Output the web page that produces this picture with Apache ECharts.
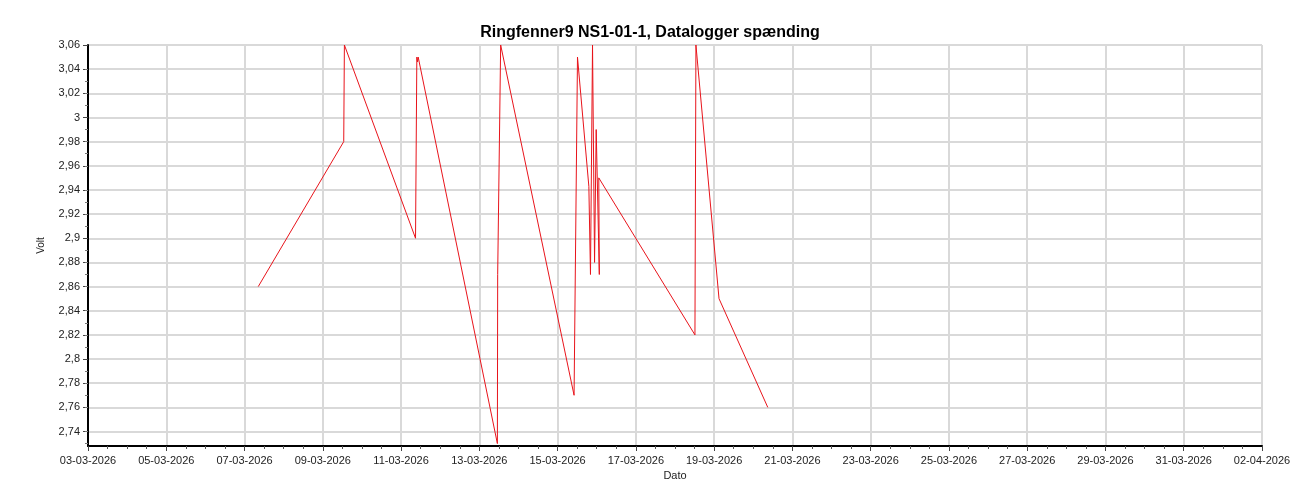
<!DOCTYPE html>
<html>
<head>
<meta charset="utf-8">
<title>Ringfenner9 NS1-01-1</title>
<script src="https://cdn.jsdelivr.net/npm/echarts@6/dist/echarts.min.js"></script>
<style>
  html, body { margin: 0; padding: 0; background: #fff; }
  #chart { width: 1300px; height: 500px; }
</style>
</head>
<body>
<div id="chart"></div>
<script>
// maaletidspunkter (UTC) og spaending
const times = [
  '2026-03-07 08:25', '2026-03-09 12:50', '2026-03-09 13:15',
  '2026-03-11 08:52', '2026-03-11 09:40', '2026-03-11 10:05', '2026-03-11 10:30',
  '2026-03-13 11:04', '2026-03-13 11:15', '2026-03-13 13:05',
  '2026-03-15 10:06', '2026-03-15 12:12', '2026-03-15 19:10', '2026-03-15 20:10',
  '2026-03-15 21:25', '2026-03-15 22:40', '2026-03-15 23:40', '2026-03-16 01:35', '2026-03-16 01:15',
  '2026-03-18 12:14', '2026-03-18 12:50', '2026-03-19 03:00', '2026-03-20 08:54'
]
const volts = [
  2.86, 2.98, 3.06,
  2.90, 3.05, 3.046, 3.05,
  2.73, 2.87, 3.06,
  2.77, 3.05, 2.943, 2.87,
  3.06, 2.88, 2.99, 2.87, 2.95,
  2.82, 3.06, 2.85, 2.76
]
const yTicks = [2.74, 2.76, 2.78, 2.8, 2.82, 2.84, 2.86, 2.88, 2.9, 2.92, 2.94, 2.96, 2.98, 3, 3.02, 3.04, 3.06]

const DAY = 86400000
function toMs(s) {
  const [d, t] = s.split(' ')
  const [y, m, dd] = d.split('-').map(Number)
  const [hh, mm] = t.split(':').map(Number)
  return Date.UTC(y, m - 1, dd, hh, mm)
}
function pad(n) { return (n < 10 ? '0' : '') + n }
function fmtDate(v) {
  const d = new Date(v)
  return pad(d.getUTCDate()) + '-' + pad(d.getUTCMonth() + 1) + '-' + d.getUTCFullYear()
}

const chart = echarts.init(document.getElementById('chart'))
chart.setOption({
  animation: false,
  textStyle: { fontFamily: 'Liberation Sans, Arial, sans-serif' },
  title: {
    text: 'Ringfenner9 NS1-01-1, Datalogger spænding',
    left: 'center',
    top: 20,
    textStyle: { fontSize: 16, fontWeight: 'bold', color: '#000' }
  },
  grid: {
    left: 88,
    right: 38,
    top: 45,
    bottom: 54,
    show: true,
    borderColor: '#8a8a8a',
    borderWidth: 1
  },
  xAxis: {
    type: 'value',
    name: 'Dato',
    nameLocation: 'middle',
    nameGap: 22,
    nameTextStyle: { fontSize: 11, color: '#222' },
    min: Date.UTC(2026, 2, 3),
    max: Date.UTC(2026, 3, 2),
    interval: 2 * DAY,
    axisLine: { show: true, lineStyle: { color: '#000', width: 2 } },
    axisTick: { show: true, length: 5, lineStyle: { color: '#444' } },
    minorTick: { show: true, splitNumber: 4, length: 3, lineStyle: { color: '#555' } },
    axisLabel: { formatter: fmtDate, fontSize: 11, color: '#222', margin: 9 },
    splitLine: { show: true, lineStyle: { color: '#d9d9d9', width: 2 } }
  },
  yAxis: {
    type: 'value',
    name: 'Volt',
    nameLocation: 'middle',
    nameGap: 42,
    nameRotate: 90,
    nameTextStyle: { fontSize: 10, color: '#222' },
    min: 2.728,
    max: 3.06,
    axisLine: { show: true, lineStyle: { color: '#000', width: 2 } },
    axisTick: { show: true, length: 5, customValues: yTicks, lineStyle: { color: '#444' } },
    minorTick: { show: true, splitNumber: 5, length: 3, lineStyle: { color: '#777' } },
    axisLabel: {
      customValues: yTicks,
      fontSize: 11,
      color: '#222',
      margin: 8,
      formatter: v => String(parseFloat(v.toFixed(2))).replace('.', ',')
    },
    splitLine: { show: true, lineStyle: { color: '#d9d9d9', width: 2 } }
  },
  series: [{
    type: 'line',
    data: times.map((t, i) => [toMs(t), volts[i]]),
    showSymbol: false,
    lineStyle: { color: '#e8141b', width: 1 },
    clip: true
  }]
})
</script>
</body>
</html>
